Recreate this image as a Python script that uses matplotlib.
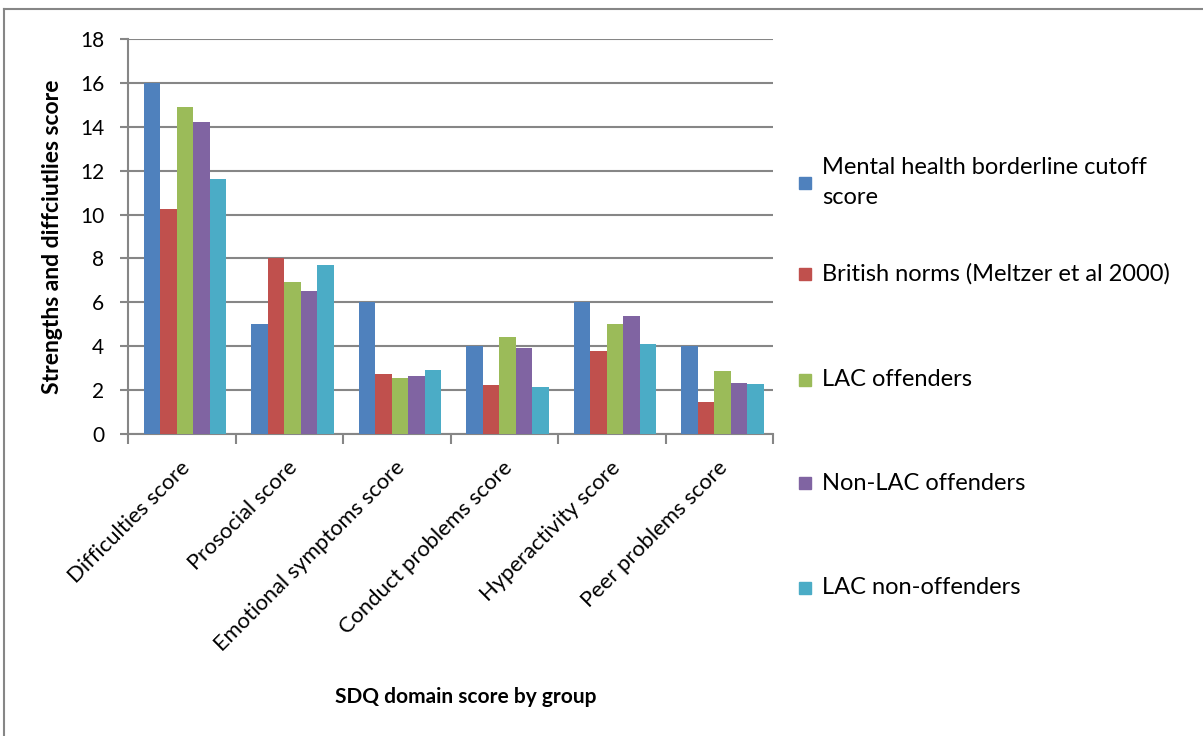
import numpy as np
import matplotlib.pyplot as plt
import matplotlib.transforms as mtransforms
from matplotlib.lines import Line2D

categories = ["Difficulties score", "Prosocial score", "Emotional symptoms score",
              "Conduct problems score", "Hyperactivity score", "Peer problems score"]
series_names = ["Mental health borderline cutoff\nscore", "British norms (Meltzer et al 2000)",
                "LAC offenders", "Non-LAC offenders", "LAC non-offenders"]
cutoff = [16.0, 5.0, 6.0, 4.0, 6.0, 4.0]
british = [10.24, 8.02, 2.73, 2.23, 3.78, 1.46]
lac_off = [14.88, 6.92, 2.55, 4.41, 5.0, 2.87]
nonlac_off = [14.24, 6.51, 2.64, 3.91, 5.37, 2.32]
lac_nonoff = [11.6, 7.69, 2.91, 2.14, 4.09, 2.27]
values = [cutoff, british, lac_off, nonlac_off, lac_nonoff]
colors = ["#4F81BD", "#C0504D", "#9BBB59", "#8064A2", "#4BACC6"]

plt.rcParams['font.family'] = ['Lato', 'DejaVu Sans']
grid_c = "#868686"

fig = plt.figure(figsize=(12.03, 7.36), dpi=100)
ax = fig.add_axes([128 / 1203, 1 - 434 / 736, 645 / 1203, 395 / 736])

x = np.arange(len(categories))
w = 0.153
for i, (vals, c) in enumerate(zip(values, colors)):
    ax.bar(x + (i - 2) * w + 0.03, vals, width=w, color=c, label=series_names[i], zorder=3)

ax.set_xlim(-0.5, len(categories) - 0.5)
ax.set_ylim(0, 18)
ax.set_yticks(range(0, 19, 2))
ax.yaxis.grid(True, color=grid_c, linewidth=1.5, zorder=0)
ax.set_axisbelow(True)
for s in ["top", "right"]:
    ax.spines[s].set_visible(False)
for s in ["left", "bottom"]:
    ax.spines[s].set_color(grid_c)
    ax.spines[s].set_linewidth(1.5)
ax.tick_params(axis="y", length=6, width=1.5, color=grid_c, labelsize=15, pad=11)

# category boundaries as tick marks, labels at centers
ax.set_xticks(np.arange(-0.5, len(categories), 1.0))
ax.set_xticklabels([])
ax.tick_params(axis="x", length=7, width=1.5, color=grid_c)
ax.set_xticks(x, minor=True)
ax.set_xticklabels(categories, minor=True, rotation=45, ha="right",
                   rotation_mode="anchor", fontsize=15.8)
ax.tick_params(axis="x", which="minor", length=0, pad=17)
shift = mtransforms.ScaledTranslation(-2 / 100, 0, fig.dpi_scale_trans)
for lab in ax.get_xticklabels(minor=True):
    lab.set_transform(lab.get_transform() + shift)

ax.set_ylabel("Strengths and diffciutlies score", fontsize=16.5, fontweight="bold", labelpad=12)
fig.text(466 / 1203, 1 - 697 / 736, "SDQ domain score by group", fontsize=15,
         fontweight="bold", ha="center", va="center")

# legend
leg_y = [183, 274, 380, 483, 588]
for name, c, yy in zip(series_names, colors, leg_y):
    fy = 1 - yy / 736
    fig.patches.append(plt.Rectangle((799 / 1203, fy - 6 / 736), 12 / 1203, 12 / 736,
                                     transform=fig.transFigure, color=c))
    if "\n" in name:
        fig.text(822 / 1203, 1 - 167 / 736, name.split("\n")[0], fontsize=17, va="center")
        fig.text(822 / 1203, 1 - 198 / 736, name.split("\n")[1], fontsize=17, va="center")
    else:
        fig.text(822 / 1203, fy, name, fontsize=17, va="center")

# outer frame
fig.add_artist(Line2D([4 / 1203, 4 / 1203], [0, 1 - 9 / 736], transform=fig.transFigure,
                      color=grid_c, linewidth=1.5))
fig.add_artist(Line2D([4 / 1203, 1], [1 - 9 / 736, 1 - 9 / 736], transform=fig.transFigure,
                      color=grid_c, linewidth=1.5))

fig.savefig("out.png", dpi=100)
